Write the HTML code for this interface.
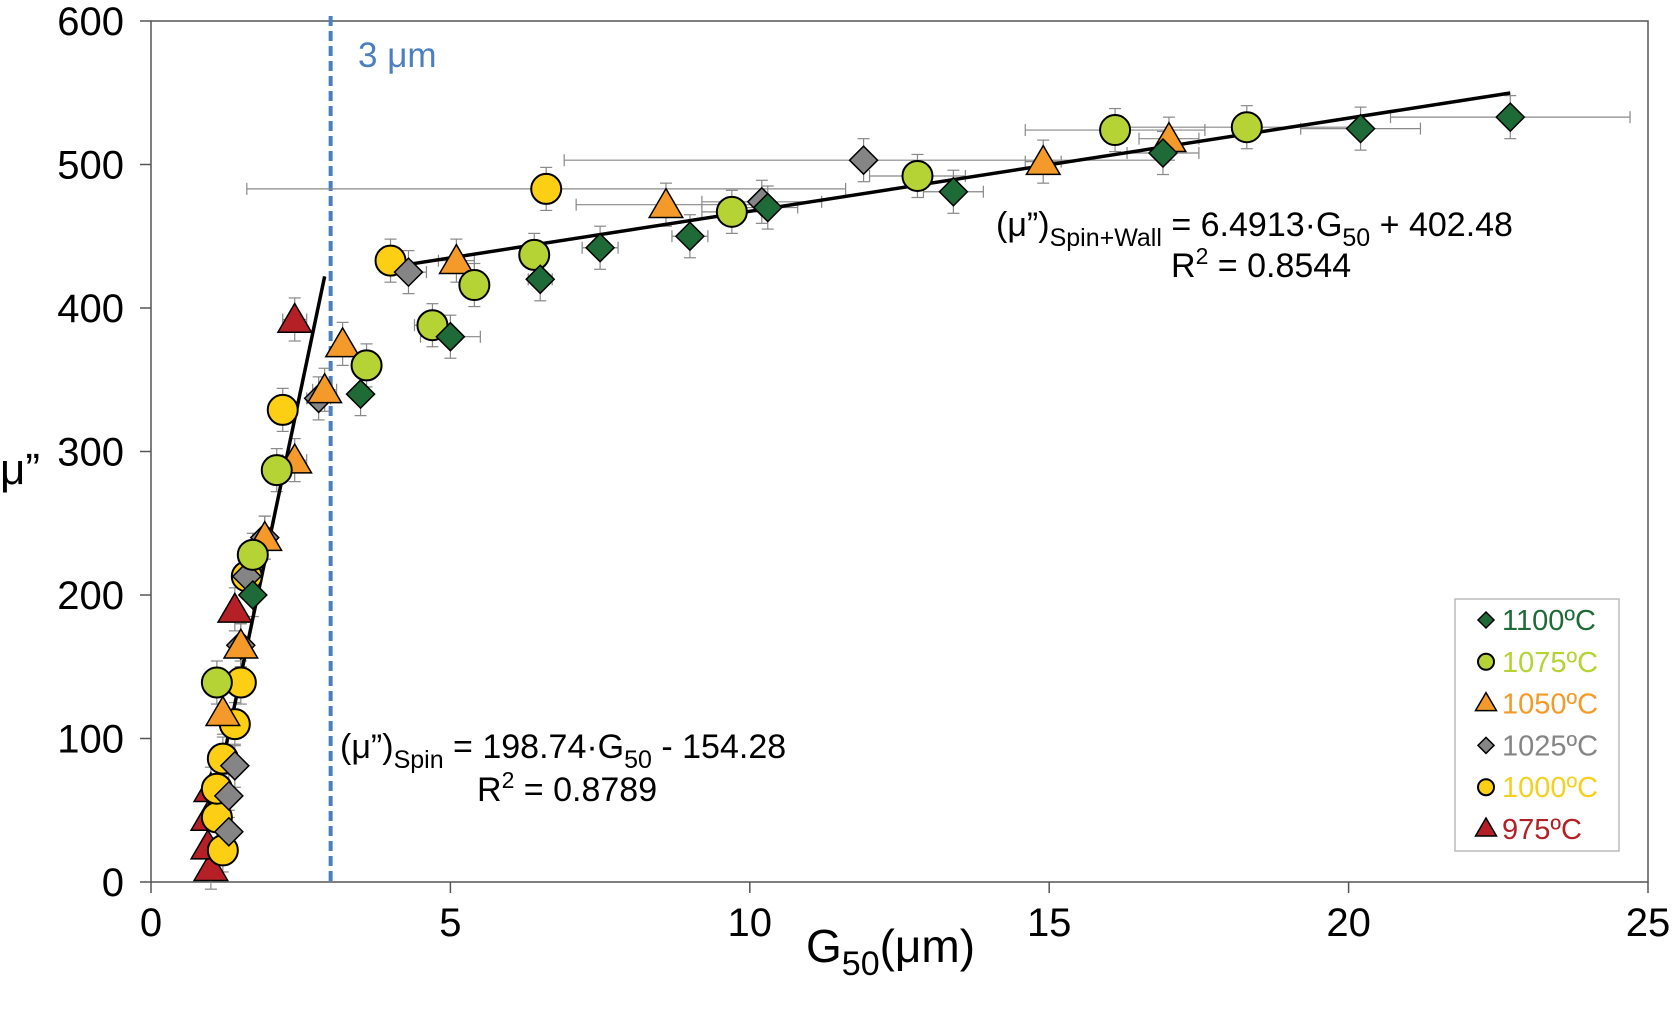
<!DOCTYPE html>
<html><head><meta charset="utf-8">
<style>
html,body{margin:0;padding:0;background:#fff;}
svg{display:block;font-family:"Liberation Sans",Arial,sans-serif;}
</style></head>
<body>
<svg id="chart" width="1674" height="1028" viewBox="0 0 1674 1028" xmlns="http://www.w3.org/2000/svg">
<g id="grid">
  <rect x="151" y="21" width="1497" height="861" fill="none" stroke="#555" stroke-width="1.5"/>
</g>
<g id="axes"></g>
<g id="errs"></g>
<g id="fits"></g>
<g id="marks"></g>
<text x="358" y="67" font-size="35" fill="#4a7fc1">3 μm</text>
<text x="996" y="236" font-size="34" fill="#000">(μ”)<tspan font-size="25" dy="10">Spin+Wall</tspan><tspan dy="-10"> = 6.4913·G</tspan><tspan font-size="25" dy="10">50</tspan><tspan dy="-10"> + 402.48</tspan></text>
<text x="1171" y="277" font-size="34" fill="#000">R<tspan font-size="23" dy="-13">2</tspan><tspan dy="13"> = 0.8544</tspan></text>
<text x="340" y="758" font-size="34" fill="#000">(μ”)<tspan font-size="25" dy="10">Spin</tspan><tspan dy="-10"> = 198.74·G</tspan><tspan font-size="25" dy="10">50</tspan><tspan dy="-10"> - 154.28</tspan></text>
<text x="477" y="801" font-size="34" fill="#000">R<tspan font-size="23" dy="-13">2</tspan><tspan dy="13"> = 0.8789</tspan></text>
<text x="806" y="962" font-size="46" fill="#000">G<tspan font-size="34" dy="13">50</tspan><tspan dy="-13">(μm)</tspan></text>
<text x="0" y="484" font-size="44" fill="#000">μ”</text>
<g id="legend">
  <rect x="1455" y="599" width="164" height="252" fill="#fff" stroke="#bbb" stroke-width="1.5"/>
</g>
</svg>
<script>
const xTicks = [0,5,10,15,20,25];
const yTicks = [0,100,200,300,400,500,600];
const seriesNames = ['1100ºC','1075ºC','1050ºC','1025ºC','1000ºC','975ºC'];
const x1100 = [1.7,3.5,5.0,6.5,7.5,9.0,10.3,13.4,16.9,20.2,22.7];
const y1100 = [200,340,380,420,442,450,470,481,508,525,533];
const xe1100 = [0.1,0.1,0.5,0.2,0.3,0.3,0.5,0.5,0.6,1.0,2.0];
const x1075 = [1.1,1.7,2.1,3.6,4.7,5.4,6.4,9.7,12.8,16.1,18.3];
const y1075 = [139,228,287,360,388,416,437,467,492,524,526];
const xe1075 = [0.1,0.1,0.2,0.1,0.3,0.2,0.2,0.5,0.8,1.5,2.0];
const x1050 = [1.2,1.5,1.9,2.4,2.9,3.2,5.1,8.6,14.9,17.0];
const y1050 = [118,165,240,294,343,375,433,472,502,518];
const xe1050 = [0.1,0.1,0.1,0.2,0.2,0.1,0.3,1.5,0.3,0.5];
const x1025 = [1.3,1.3,1.4,1.5,1.6,1.9,2.8,4.3,10.2,11.9];
const y1025 = [35,60,81,165,213,240,337,425,474,503];
const xe1025 = [0.05,0.05,0.05,0.05,0.1,0.1,0.2,0.3,1.0,5.0];
const x1000 = [1.2,1.1,1.1,1.2,1.4,1.5,1.6,2.2,4.0,6.6];
const y1000 = [22,45,65,86,110,139,213,329,433,483];
const xe1000 = [0.05,0.05,0.05,0.05,0.05,0.1,0.1,0.1,0.1,5.0];
const x975 = [1.0,0.95,0.95,1.0,1.4,2.4];
const y975 = [10,25,45,65,190,392];
const xe975 = [0.05,0.05,0.05,0.05,0.1,0.2];
const yErr = 15;
const spinFit = [198.74,-154.28,0.98,2.9];
const wallFit = [6.4913,402.48,4.0,22.7];

const NS='http://www.w3.org/2000/svg';
const X=v=>151+v*59.88;
const Y=v=>882-v*1.435;
function mk(tag,attrs,parent){const e=document.createElementNS(NS,tag);for(const k in attrs)e.setAttribute(k,attrs[k]);parent.appendChild(e);return e;}
const axes=document.getElementById('axes');
xTicks.forEach(t=>{
  const l=mk('line',{x1:X(t),x2:X(t),y1:882,y2:893,stroke:'#555','stroke-width':1.5},axes);
  
  
  const tx=mk('text',{x:X(t),y:936,'font-size':40,'text-anchor':'middle'},axes);tx.textContent=t;
  
  
});
yTicks.forEach(t=>{
  const l=mk('line',{x1:140,x2:151,y1:Y(t),y2:Y(t),stroke:'#555','stroke-width':1.5},axes);
  
  
  const tx=mk('text',{x:124,y:Y(t)+14,'font-size':40,'text-anchor':'end'},axes);tx.textContent=t;
  
  
});
const dl=mk('line',{x1:X(3),x2:X(3),y1:16,y2:884,stroke:'#4a7fc1','stroke-width':4,'stroke-dasharray':'10,5'},axes);



const fits=document.getElementById('fits');
[spinFit,wallFit].forEach((f,i)=>{
  const l=mk('line',{x1:X(f[2]),y1:Y(f[0]*f[2]+f[1]),x2:X(f[3]),y2:Y(f[0]*f[3]+f[1]),stroke:'#000','stroke-width':3.5},fits);
  
  
});

const series=[
 {xs:x1100,ys:y1100,xe:xe1100,shape:'diamond',fill:'#1e6b37',tc:'#1e6b37'},
 {xs:x1075,ys:y1075,xe:xe1075,shape:'circle',fill:'#b5d334',tc:'#b5d334'},
 {xs:x1050,ys:y1050,xe:xe1050,shape:'tri',fill:'#f39a2a',tc:'#f39a2a'},
 {xs:x1025,ys:y1025,xe:xe1025,shape:'diamond',fill:'#858585',tc:'#858585'},
 {xs:x1000,ys:y1000,xe:xe1000,shape:'circle',fill:'#fccf14',tc:'#f5d020'},
 {xs:x975,ys:y975,xe:xe975,shape:'tri',fill:'#b42025',tc:'#b42025'}
];
function shape(kind,cx,cy,s,fill,parent){
  if(kind==='circle')return mk('circle',{cx,cy,r:s,fill,stroke:'#000','stroke-width':2},parent);
  if(kind==='diamond')return mk('polygon',{points:`${cx},${cy-s} ${cx+s},${cy} ${cx},${cy+s} ${cx-s},${cy}`,fill,stroke:'#000','stroke-width':1.5},parent);
  return mk('polygon',{points:`${cx},${cy-s} ${cx+s*1.05},${cy+s*0.8} ${cx-s*1.05},${cy+s*0.8}`,fill,stroke:'#000','stroke-width':1.5},parent);
}
const errs=document.getElementById('errs'),marks=document.getElementById('marks');
const order=[5,4,3,2,1,0];
series.forEach((s,si)=>{
  s.xs.forEach((xv,i)=>{
    const cx=X(xv),cy=Y(s.ys[i]);
    const g=mk('g',{},errs);
    
    
    const a={stroke:'#888','stroke-width':1.2};
    mk('line',{...a,x1:cx,x2:cx,y1:Y(s.ys[i]+yErr),y2:Y(s.ys[i]-yErr)},g);
    mk('line',{...a,x1:cx-6,x2:cx+6,y1:Y(s.ys[i]+yErr),y2:Y(s.ys[i]+yErr)},g);
    mk('line',{...a,x1:cx-6,x2:cx+6,y1:Y(s.ys[i]-yErr),y2:Y(s.ys[i]-yErr)},g);
    const xl=X(xv-s.xe[i]),xr=X(xv+s.xe[i]);
    mk('line',{...a,x1:xl,x2:xr,y1:cy,y2:cy},g);
    mk('line',{...a,x1:xl,x2:xl,y1:cy-6,y2:cy+6},g);
    mk('line',{...a,x1:xr,x2:xr,y1:cy-6,y2:cy+6},g);
  });
});
order.forEach(si=>{
  const s=series[si];
  s.xs.forEach((xv,i)=>{
    const sz=s.shape==='circle'?15:(s.shape==='diamond'?14:16);
    const m=shape(s.shape,X(xv),Y(s.ys[i]),sz,s.fill,marks);
    
    
  });
});
const legend=document.getElementById('legend');
series.forEach((s,i)=>{
  const cy=620+i*41.8;
  const sz=s.shape==='circle'?8:(s.shape==='diamond'?8:10);
  const m=shape(s.shape,1486,cy+(s.shape==='tri'?-1:0),sz,s.fill,legend);
  
  
  const t=mk('text',{x:1502,y:cy+10,'font-size':29,fill:s.tc},legend);
  t.textContent=seriesNames[i];
  
  
});
</script>
</body></html>
